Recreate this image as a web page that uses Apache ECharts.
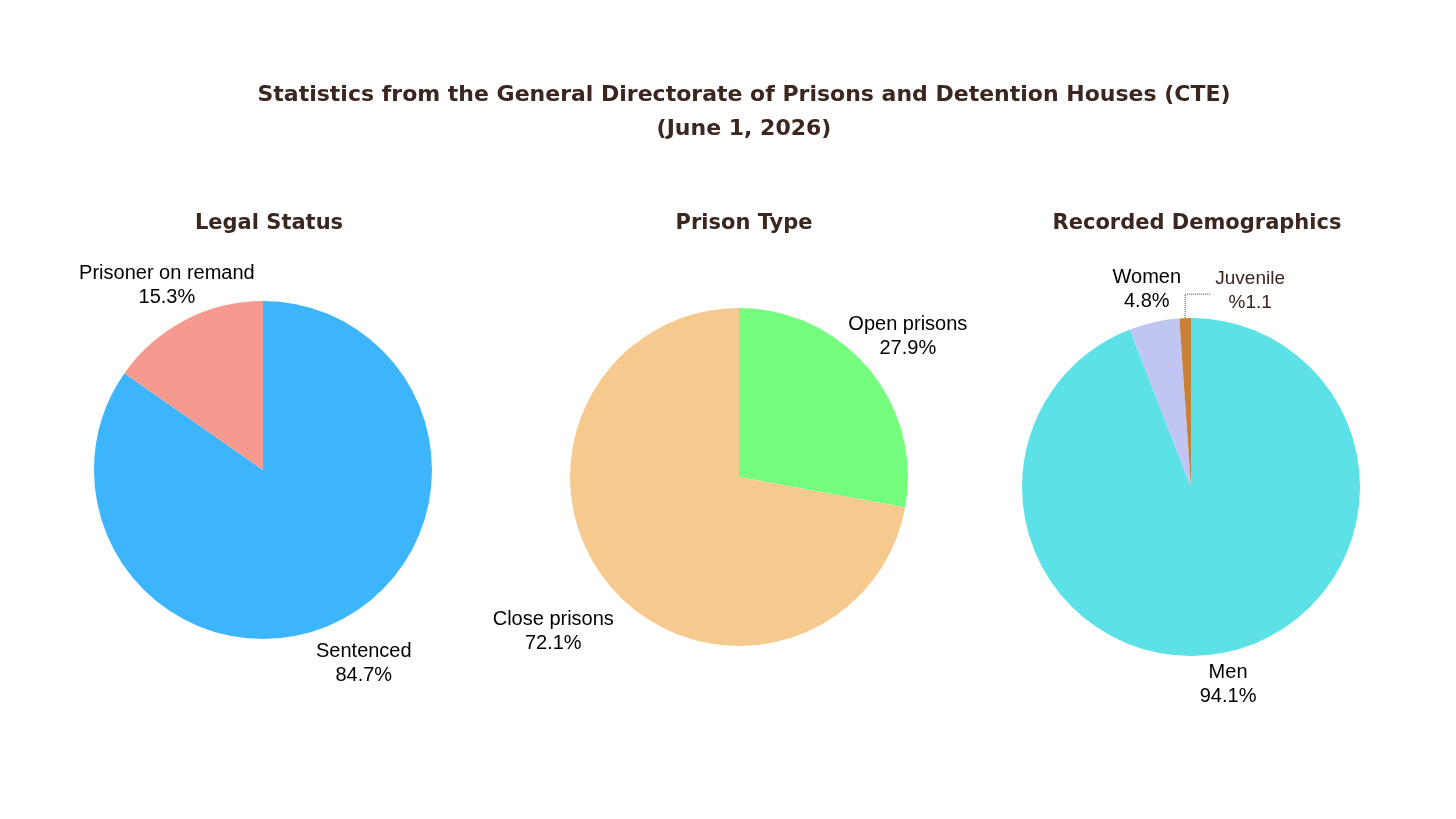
<!DOCTYPE html>
<html>
<head>
<meta charset="utf-8">
<title>CTE statistics</title>
<script src="https://cdn.jsdelivr.net/npm/echarts@6/dist/echarts.min.js"></script>
<style>
html, body { margin: 0; padding: 0; background: #fff; }
#chart1 { width: 1456px; height: 819px; }
</style>
</head>
<body>
<div id="chart1"></div>
<script>
// data
var legalNames = ['Sentenced', 'Prisoner on remand'];
var legalValues = [84.7, 15.3];
var typeNames = ['Open prisons', 'Close prisons'];
var typeValues = [27.9, 72.1];
var demoNames = ['Men', 'Women', 'Juvenile'];
var demoValues = [94.1, 4.8, 1.1];
var demoLabels = ['Men\n94.1%', 'Women\n4.8%', 'Juvenile\n%1.1'];

var titleColor = '#3b2620';
var titleFont = 'DejaVu Sans, Verdana, sans-serif';
var labelFont = 'Liberation Sans, Arial, sans-serif';

var Chart1 = echarts.init(document.getElementById('chart1'));

var R = 169;
// pie centres (px) and label distances (factor of radius)
var pies = [
    { cx: 263, cy: 470, dist: [1.29, 1.23] },
    { cx: 739, cy: 477, dist: [1.30, 1.43] },
    { cx: 1191, cy: 487, dist: [1.19, 1.20, 1.0] }
];

function midAngle(values, idx) {
    var total = 0, before = 0;
    for (var i = 0; i < values.length; i++) {
        total += values[i];
        if (i < idx) before += values[i];
    }
    return 2 * Math.PI * (before + values[idx] / 2) / total;
}

function makeLayout(values, p, special) {
    return function (params) {
        var a = midAngle(values, params.dataIndex);
        var i = params.dataIndex;
        if (special && special[i]) {
            // small slice: label pulled to the side with an elbow leader
            var sx = p.cx + R * Math.sin(a), sy = p.cy - R * Math.cos(a);
            return {
                x: sx + 65, y: sy - 27,
                align: 'center', verticalAlign: 'middle',
                labelLinePoints: [[sx, sy], [sx, sy - 24], [sx + 25, sy - 24]]
            };
        }
        var d = R * p.dist[i];
        return {
            x: p.cx + d * Math.sin(a),
            y: p.cy - d * Math.cos(a),
            align: 'center', verticalAlign: 'middle'
        };
    };
}

function buildData(names, values, colors, labels) {
    var res = [];
    for (var len = 0; len < values.length; len++) {
        res.push({
            name: names[len],
            value: values[len],
            itemStyle: { color: colors[len] },
            label: { formatter: labels ? labels[len] : names[len] + '\n' + values[len].toFixed(1) + '%' }
        });
    }
    return res;
}

var labelBase = {
    show: true,
    position: 'outside',
    color: '#000',
    fontSize: 20,
    lineHeight: 24,
    fontFamily: labelFont,
    align: 'center'
};

function pieSeries(name, p, data, values, special) {
    return {
        name: name,
        type: 'pie',
        radius: R,
        center: [p.cx, p.cy],
        startAngle: 90,
        clockwise: true,
        avoidLabelOverlap: false,
        animation: false,
        silent: true,
        label: labelBase,
        labelLine: { show: false },
        itemStyle: { borderWidth: 0 },
        labelLayout: makeLayout(values, p, special),
        data: data
    };
}

var demoData = buildData(demoNames, demoValues, ['#5ce1e6', '#c1c5f2', '#c88036'], demoLabels);
demoData[2].label.color = titleColor;
demoData[2].label.fontSize = 19;
demoData[2].labelLine = { show: true, lineStyle: { type: 'dotted', color: '#444', width: 1 } };

function subTitle(text, x) {
    return {
        text: text, left: x, top: 208, textAlign: 'center',
        textStyle: { color: titleColor, fontSize: 21, fontWeight: 'bold', fontFamily: titleFont }
    };
}

var option1 = {
    backgroundColor: '#fff',
    title: [
        {
            text: 'Statistics from the General Directorate of Prisons and Detention Houses (CTE)\n(June 1, 2026)',
            left: 739, top: 73, textAlign: 'center',
            textStyle: { color: titleColor, fontSize: 22, fontWeight: 'bold', lineHeight: 34, fontFamily: titleFont }
        },
        subTitle('Legal Status', 264),
        subTitle('Prison Type', 739),
        subTitle('Recorded Demographics', 1192)
    ],
    series: [
        pieSeries('Legal Status', pies[0], buildData(legalNames, legalValues, ['#3cb5fd', '#f69a8f']), legalValues),
        pieSeries('Prison Type', pies[1], buildData(typeNames, typeValues, ['#75fd7d', '#f6ca8e']), typeValues),
        pieSeries('Recorded Demographics', pies[2], demoData, demoValues, { 2: true })
    ]
};
Chart1.setOption(option1);

window.onresize = function () {
    Chart1.resize();
};
</script>
</body>
</html>
